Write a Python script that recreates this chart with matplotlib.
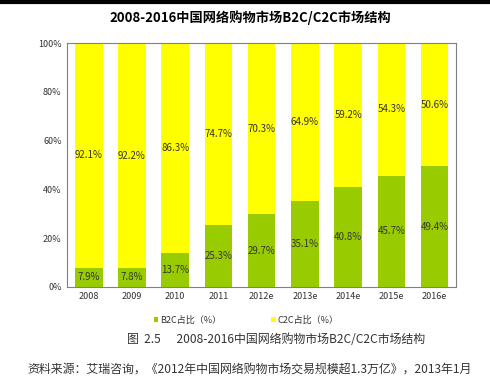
import numpy as np
import matplotlib
matplotlib.use('Agg')
import matplotlib.pyplot as plt

plt.rcParams['font.family'] = ['Noto Sans CJK SC', 'DejaVu Sans']

years = ['2008', '2009', '2010', '2011', '2012e', '2013e', '2014e', '2015e', '2016e']
b2c = [7.9, 7.8, 13.7, 25.3, 29.7, 35.1, 40.8, 45.7, 49.4]
c2c = [92.1, 92.2, 86.3, 74.7, 70.3, 64.9, 59.2, 54.3, 50.6]

green = '#99CC00'
yellow = '#FFFF00'

fig = plt.figure(figsize=(4.9, 3.82), dpi=100)
ax = fig.add_axes([0.137, 0.249, 0.794, 0.638])

x = np.arange(len(years))
ax.bar(x, b2c, width=0.64, color=green, label='B2C占比（%）')
ax.bar(x, c2c, width=0.64, bottom=b2c, color=yellow, label='C2C占比（%）')

for i in range(len(years)):
    ax.text(x[i], b2c[i] / 2, '%.1f%%' % b2c[i], ha='center', va='center', fontsize=7, color='#333333')
    ax.text(x[i], b2c[i] + c2c[i] / 2, '%.1f%%' % c2c[i], ha='center', va='center', fontsize=7, color='#333333')

ax.set_xlim(-0.5, 8.5)
ax.set_ylim(0, 100)
ax.set_yticks(np.arange(0, 101, 20))
ax.set_yticklabels(['%d%%' % v for v in range(0, 101, 20)], fontsize=6.5, color='#333333')
ax.set_xticks(x)
ax.set_xticklabels(years, fontsize=6.5, color='#333333')
ax.tick_params(length=0, pad=4)
for s in ax.spines.values():
    s.set_color('#808080')
    s.set_linewidth(0.8)

ax.legend(loc='upper center', bbox_to_anchor=(0.46, -0.085), ncol=2, frameon=False,
          fontsize=6.5, handlelength=0.5, handleheight=0.5, columnspacing=5.5, handletextpad=0.2,
          labelcolor='#333333')

fig.text(0.51, 0.955, '2008-2016中国网络购物市场B2C/C2C市场结构', ha='center', va='center',
         fontsize=9.5, fontweight='bold')
fig.text(0.563, 0.11, '图  2.5      2008-2016中国网络购物市场B2C/C2C市场结构', ha='center', va='center',
         fontsize=8.6, color='#333333')
fig.text(0.51, 0.032, '资料来源：艾瑞咨询，《2012年中国网络购物市场交易规模超1.3万亿》，2013年1月', ha='center',
         va='center', fontsize=8.6, color='#333333')

fig.add_artist(plt.Line2D([0, 1], [0.996, 0.996], color='black', linewidth=3, transform=fig.transFigure))

fig.savefig('out.png', dpi=100)
